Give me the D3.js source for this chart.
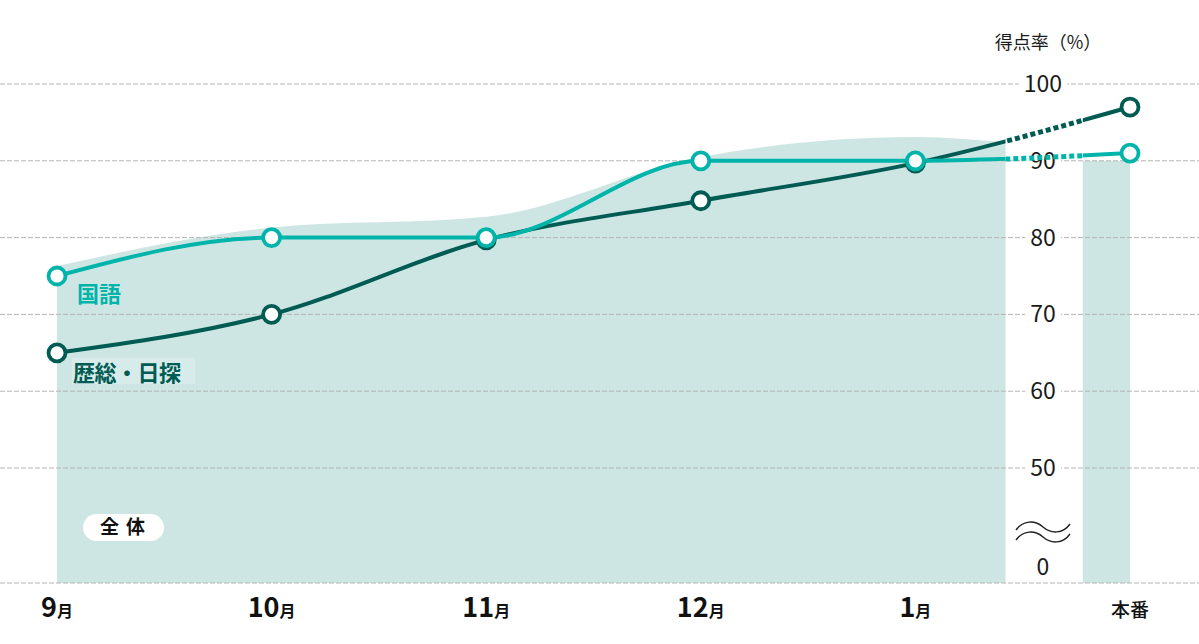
<!DOCTYPE html>
<html>
<head>
<meta charset="utf-8">
<script src="https://cdn.jsdelivr.net/npm/d3@7"></script>
<style>
  html, body { margin: 0; padding: 0; background: #fff; }
  text { font-family: "Noto Sans CJK JP", "Noto Sans", sans-serif; }
</style>
</head>
<body>
<div id="chart"></div>
<script>
// ---- data ----
var categories = ["9月", "10月", "11月", "12月", "1月", "本番"];
var kokugo = [75, 80, 80, 90, 90, 91];          // 国語
var rekiso = [65, 70, 79.7, 84.8, 89.7, 97];    // 歴総・日探
var zentai = [76.3, 81.3, 82.7, 90.5, 93.1, 92.4]; // 全体 (area)
var zentaiIdx = [0, 1, 2, 3, 4, 4.42];
var zentaiHonban = 90;                          // 全体 本番 bar
var yTicks = [100, 90, 80, 70, 60, 50];

// ---- layout ----
var width = 1199, height = 644;
var plotTop = 84, plotBreak = 468, plotBottom = 583;
var projStart = 4.42, projEnd = 4.78;   // dotted part between 1月 and 本番

var teal = "#00b4aa", dark = "#005b53", areaFill = "#cde6e4", gridColor = "#b4b4b4";

var svg = d3.select("#chart").append("svg")
    .attr("width", width).attr("height", height);

var x = d3.scalePoint().domain(categories).range([57, 1130]);
var xi = d3.scaleLinear().domain([0, categories.length - 1]).range(x.range());
var y = d3.scaleLinear().domain([50, 100]).range([plotBreak, plotTop]);
var axisX = 1043;

// area (全体)
var areaData = zentai.map(function(v, i) { return [zentaiIdx[i], v]; });
svg.append("path")
    .datum(areaData)
    .attr("fill", areaFill)
    .attr("d", d3.area()
        .x(function(d) { return xi(d[0]); })
        .y0(plotBottom)
        .y1(function(d) { return y(d[1]); })
        .curve(d3.curveMonotoneX));

// 本番 bar
svg.append("rect")
    .attr("x", xi(projEnd))
    .attr("y", y(zentaiHonban))
    .attr("width", x("本番") - xi(projEnd))
    .attr("height", plotBottom - y(zentaiHonban))
    .attr("fill", areaFill);

// grid
var gridVals = yTicks.map(function(t) { return y(t); }).concat([plotBottom]);
svg.append("g").selectAll("line")
    .data(gridVals)
    .enter().append("line")
    .attr("x1", 0).attr("x2", width)
    .attr("y1", function(d) { return d; })
    .attr("y2", function(d) { return d; })
    .attr("stroke", gridColor)
    .attr("stroke-width", 1)
    .attr("stroke-dasharray", "5 2");

// y tick labels with white background
var tickG = svg.append("g");
var tickData = yTicks.map(function(t) { return {label: String(t), y: y(t)}; });
tickData.push({label: "0", y: plotBottom - 16});
tickData.forEach(function(t) {
    var tx = tickG.append("text")
        .attr("x", axisX).attr("y", t.y)
        .attr("dy", "0.35em")
        .attr("text-anchor", "middle")
        .attr("font-size", 23)
        .attr("fill", "#1a1a1a")
        .text(t.label);
    var bb = tx.node().getBBox();
    tickG.insert("rect", "text")
        .attr("x", bb.x - 5).attr("y", t.y - 4)
        .attr("width", bb.width + 10).attr("height", 8)
        .attr("fill", "#fff");
});

// break mark
var wave = "M-27,3 C-20,-7 -8,-7 0,0 C8,7 20,7 27,-3";
[527, 537].forEach(function(cy) {
    svg.append("path")
        .attr("d", wave)
        .attr("transform", "translate(" + axisX + "," + cy + ")")
        .attr("fill", "none")
        .attr("stroke", "#222")
        .attr("stroke-width", 1.4);
});

// axis title
svg.append("text")
    .attr("x", axisX + 5).attr("y", 49)
    .attr("text-anchor", "middle")
    .attr("font-size", 18)
    .attr("fill", "#1a1a1a")
    .text("得点率（%）");

// x labels
categories.forEach(function(c) {
    var t = svg.append("text")
        .attr("x", x(c)).attr("y", 617)
        .attr("text-anchor", "middle")
        .attr("fill", "#111");
    if (c.slice(-1) === "月") {
        t.append("tspan").attr("font-size", 27).attr("font-weight", 600).text(c.slice(0, -1));
        t.append("tspan").attr("font-size", 16).attr("font-weight", 600).text("月");
    } else {
        t.attr("font-size", 19).attr("font-weight", 500).text(c);
    }
});

// clip paths: solid part and dotted part
var defs = svg.append("defs");
var clipSolid = defs.append("clipPath").attr("id", "clip-solid");
clipSolid.append("rect").attr("x", 0).attr("y", 0).attr("width", xi(projStart)).attr("height", height);
clipSolid.append("rect").attr("x", xi(projEnd)).attr("y", 0).attr("width", width - xi(projEnd)).attr("height", height);
defs.append("clipPath").attr("id", "clip-dot")
    .append("rect").attr("x", xi(projStart)).attr("y", 0)
    .attr("width", xi(projEnd) - xi(projStart)).attr("height", height);

var line = d3.line()
    .x(function(d, i) { return x(categories[i]); })
    .y(function(d) { return y(d); })
    .curve(d3.curveMonotoneX);

function drawLine(values, color) {
    var g = svg.append("g");
    g.append("path")
        .datum(values)
        .attr("d", line)
        .attr("fill", "none")
        .attr("stroke", color)
        .attr("stroke-width", 4)
        .attr("clip-path", "url(#clip-solid)");
    g.append("path")
        .datum(values)
        .attr("d", line)
        .attr("fill", "none")
        .attr("stroke", color)
        .attr("stroke-width", 5)
        .attr("stroke-dasharray", "5 3")
        .attr("clip-path", "url(#clip-dot)");
}

function drawDots(values, color) {
    svg.append("g").selectAll("circle")
        .data(values)
        .enter().append("circle")
        .attr("cx", function(d, i) { return x(categories[i]); })
        .attr("cy", function(d) { return y(d); })
        .attr("r", 8.5)
        .attr("fill", "#fff")
        .attr("stroke", color)
        .attr("stroke-width", 3.8);
}

drawLine(rekiso, dark);
drawLine(kokugo, teal);
drawDots(rekiso, dark);
drawDots(kokugo, teal);

// series labels
svg.append("text")
    .attr("x", 77).attr("y", 302)
    .attr("font-size", 22).attr("font-weight", 700)
    .attr("fill", teal)
    .text("国語");

svg.append("rect")
    .attr("x", 72).attr("y", 358)
    .attr("width", 123).attr("height", 26)
    .attr("fill", "#d7ecea");
svg.append("text")
    .attr("x", 73).attr("y", 381)
    .attr("font-size", 22).attr("font-weight", 700)
    .attr("letter-spacing", -0.5)
    .attr("fill", dark)
    .text("歴総・日探");

// 全体 pill
svg.append("rect")
    .attr("x", 83).attr("y", 514)
    .attr("width", 81).attr("height", 27)
    .attr("rx", 13.5)
    .attr("fill", "#fff");
svg.append("text")
    .attr("x", 126).attr("y", 527)
    .attr("dy", "0.36em")
    .attr("text-anchor", "middle")
    .attr("font-size", 19).attr("font-weight", 700)
    .attr("letter-spacing", 7)
    .attr("fill", "#111")
    .text("全体");
</script>
</body>
</html>
